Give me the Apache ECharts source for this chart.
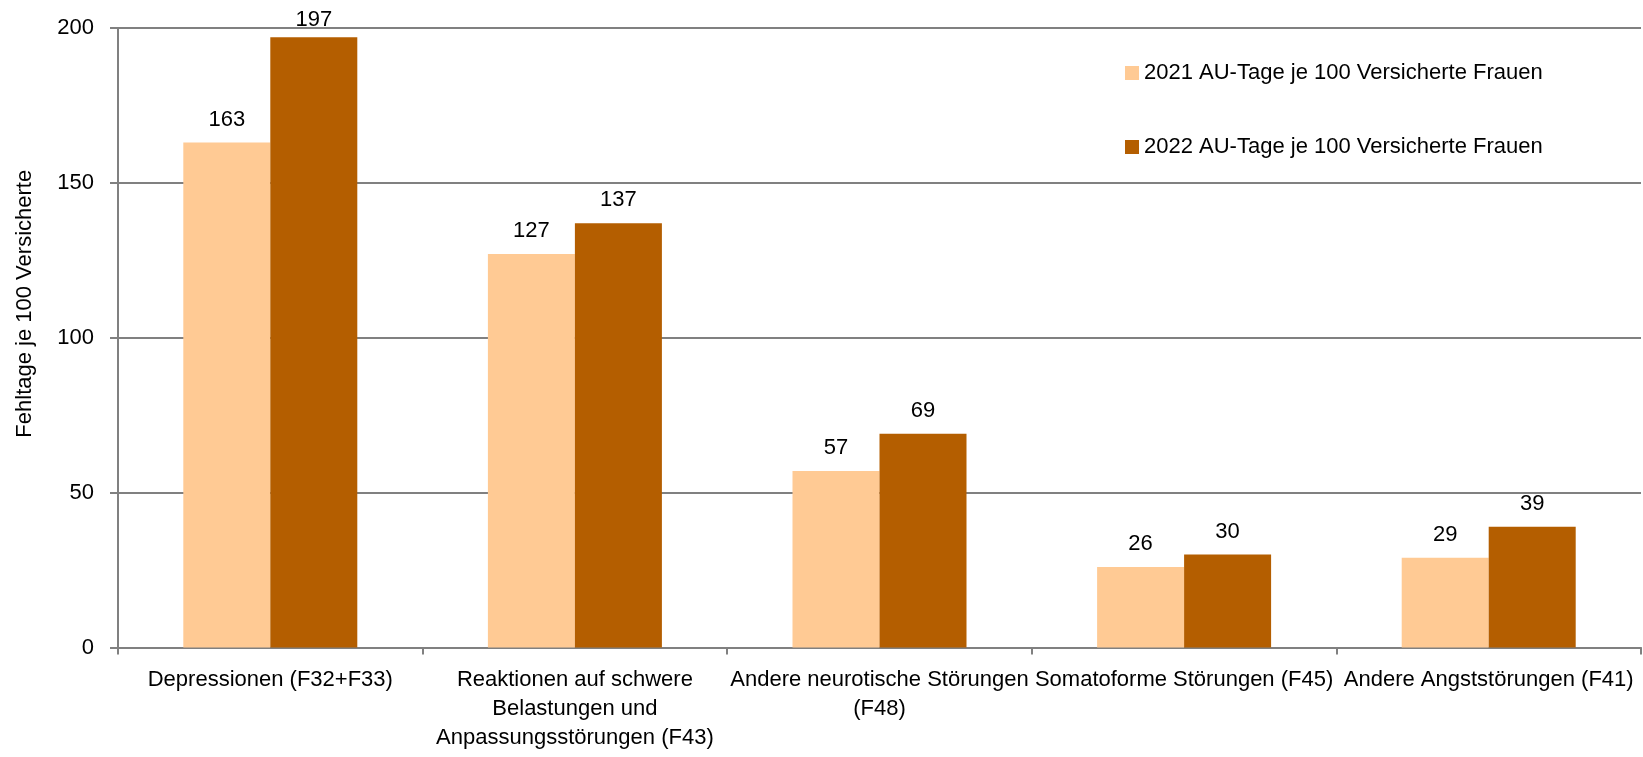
<!DOCTYPE html>
<html>
<head>
<meta charset="utf-8">
<script src="https://cdn.jsdelivr.net/npm/echarts@6/dist/echarts.min.js"></script>
<style>
html,body{margin:0;padding:0;background:#fff;}
#chart{width:1643px;height:757px;}
</style>
</head>
<body>
<div id="chart"></div>
<script>
const categories = [
  "Depressionen (F32+F33)",
  "Reaktionen auf schwere\nBelastungen und\nAnpassungsstörungen (F43)",
  "Andere neurotische Störungen\n(F48)",
  "Somatoforme Störungen (F45)",
  "Andere Angststörungen (F41)"
];
const seriesNames = [
  "2021 AU-Tage je 100 Versicherte Frauen",
  "2022 AU-Tage je 100 Versicherte Frauen"
];
const values2021 = [163, 127, 57, 26, 29];
const values2022 = [197, 137, 69, 30, 39];
const yTicks = { min: 0, max: 200, interval: 50 };
const yAxisName = "Fehltage je 100 Versicherte";

const FONT = "Liberation Sans, Arial, sans-serif";
const GREY = "#808080";
const chart = echarts.init(document.getElementById('chart'), null, {renderer: 'canvas'});

const labelCfg = {
  show: true, position: 'top', distance: 12,
  color: '#000', fontSize: 22, fontFamily: FONT
};

// the top-most label sits closer to its bar (it would otherwise leave the plot)
const data2022 = values2022.map(v => v > 190 ? { value: v, label: { distance: 6 } } : v);

chart.setOption({
  animation: false,
  textStyle: { fontFamily: FONT, color: '#000' },
  grid: { left: 118, right: 2, top: 28, bottom: 109.5, containLabel: false },
  legend: {
    orient: 'vertical',
    left: 1125, top: 62,
    padding: 0,
    itemWidth: 14, itemHeight: 14, itemGap: 52,
    icon: 'rect',
    textStyle: { fontSize: 22, fontFamily: FONT, color: '#000' },
    data: seriesNames
  },
  xAxis: {
    type: 'category',
    data: categories,
    axisLine: { show: true, lineStyle: { color: GREY, width: 2 } },
    axisTick: { show: true, length: 7, lineStyle: { color: GREY, width: 2 } },
    axisLabel: {
      interval: 0, margin: 18, fontSize: 22, lineHeight: 29,
      color: '#000', fontFamily: FONT, align: 'center'
    }
  },
  yAxis: {
    type: 'value',
    min: yTicks.min, max: yTicks.max, interval: yTicks.interval,
    name: yAxisName,
    nameLocation: 'middle',
    nameGap: 82,
    nameRotate: 90,
    nameTextStyle: { fontSize: 22, color: '#000', fontFamily: FONT, padding: [0, 0, 0, 68] },
    axisLine: { show: true, lineStyle: { color: GREY, width: 2 } },
    axisTick: { show: true, length: 8, lineStyle: { color: GREY, width: 2 } },
    axisLabel: { margin: 24, fontSize: 22, color: '#000', fontFamily: FONT },
    splitLine: { show: true, lineStyle: { color: GREY, width: 2 } }
  },
  series: [
    {
      name: seriesNames[0], type: 'bar', data: values2021,
      barWidth: 87, barGap: '0%',
      itemStyle: { color: '#FFCA94' },
      label: labelCfg
    },
    {
      name: seriesNames[1], type: 'bar', data: data2022,
      barWidth: 87, barGap: '0%',
      itemStyle: { color: '#B45E00' },
      label: labelCfg
    }
  ]
});
</script>
</body>
</html>
